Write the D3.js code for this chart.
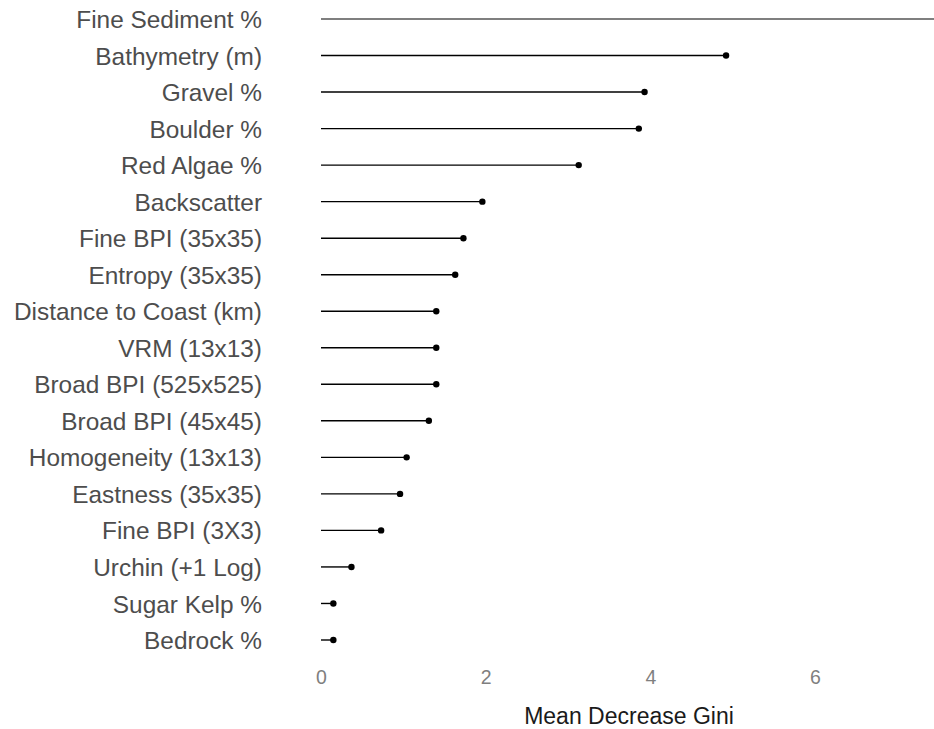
<!DOCTYPE html>
<html>
<head>
<meta charset="utf-8">
<script src="https://cdn.jsdelivr.net/npm/d3@7"></script>
<style>
  html, body { margin: 0; padding: 0; background: #fff; }
  svg { display: block; font-family: "Liberation Sans", Arial, sans-serif; }
</style>
</head>
<body>
<svg id="chart" width="934" height="729"></svg>
<script>
// Variable importance from the random forest, ordered top to bottom
const variables = [
  "Fine Sediment %", "Bathymetry (m)", "Gravel %", "Boulder %", "Red Algae %",
  "Backscatter", "Fine BPI (35x35)", "Entropy (35x35)", "Distance to Coast (km)",
  "VRM (13x13)", "Broad BPI (525x525)", "Broad BPI (45x45)", "Homogeneity (13x13)",
  "Eastness (35x35)", "Fine BPI (3X3)", "Urchin (+1 Log)", "Sugar Kelp %", "Bedrock %"
];
const meanDecreaseGini = [
  8.2, 4.92, 3.93, 3.86, 3.13,
  1.96, 1.73, 1.63, 1.40,
  1.40, 1.40, 1.31, 1.04,
  0.96, 0.73, 0.37, 0.15, 0.15
];
const xTicks = [0, 2, 4, 6];
const xTitle = "Mean Decrease Gini";

const svg = d3.select("#chart");
const W = 934, H = 729;

const x = d3.scaleLinear().domain([0, 6]).range([321, 815]);
const y = d3.scalePoint().domain(variables).range([19, 640]);

const rows = variables.map((v, i) => ({ name: v, value: meanDecreaseGini[i] }));

// Clip marks to the visible area
svg.append("defs").append("clipPath").attr("id", "plotClip")
  .append("rect").attr("x", 0).attr("y", 0).attr("width", W).attr("height", H);

const plot = svg.append("g").attr("clip-path", "url(#plotClip)");

plot.selectAll("line.stem")
  .data(rows)
  .join("line")
  .attr("class", "stem")
  .attr("x1", x(0))
  .attr("x2", d => x(d.value))
  .attr("y1", d => y(d.name))
  .attr("y2", d => y(d.name))
  .attr("stroke", (d, i) => i === 0 ? "#555" : "#000")
  .attr("stroke-width", 1.4);

plot.selectAll("circle.dot")
  .data(rows)
  .join("circle")
  .attr("class", "dot")
  .attr("cx", d => x(d.value))
  .attr("cy", d => y(d.name))
  .attr("r", 3.2)
  .attr("fill", "#000");

// Category labels
const yAxis = d3.axisLeft(y).tickSize(0).tickPadding(0);
const gy = svg.append("g").attr("transform", "translate(262,0)").call(yAxis);
gy.select(".domain").remove();
gy.selectAll("text")
  .attr("fill", "#4d4d4d")
  .style("font-size", "24.4px")
  .attr("dy", "0.35em");

// Value axis
const xAxis = d3.axisBottom(x).tickValues(xTicks).tickFormat(d3.format("d"))
  .tickSize(0).tickPadding(0);
const gx = svg.append("g").attr("transform", "translate(0,670)").call(xAxis);
gx.select(".domain").remove();
gx.selectAll("text")
  .attr("fill", "#7f7f7f")
  .style("font-size", "19.5px")
  .attr("dy", "0.71em");

svg.append("text")
  .attr("x", 629)
  .attr("y", 724)
  .attr("text-anchor", "middle")
  .attr("fill", "#1a1a1a")
  .style("font-size", "23px")
  .text(xTitle);
</script>
</body>
</html>
